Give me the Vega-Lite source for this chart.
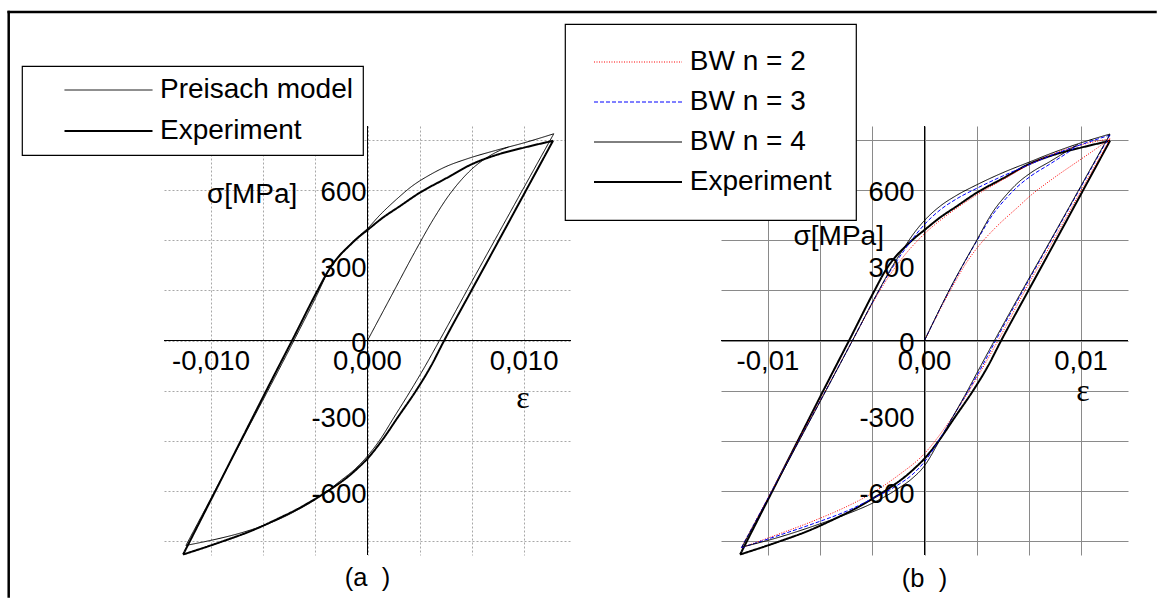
{
  "$schema": "https://vega.github.io/schema/vega-lite/v6.json",
  "padding": {"left": 6, "top": 10, "right": 0, "bottom": 0},
  "background": "white",
  "spacing": 150,
  "bounds": "flush",
  "config": {
    "view": {"stroke": null},
    "font": "Liberation Sans",
    "legend": {"labelFont": "Liberation Sans", "labelFontSize": 28, "labelColor": "black", "labelLimit": 500, "symbolType": "stroke", "symbolSize": 7744, "strokeColor": "black", "fillColor": "white", "strokeWidth": 1.2, "clipHeight": 28}
  },
  "resolve": {
    "scale": {"color": "independent", "strokeDash": "independent", "strokeWidth": "independent"},
    "legend": {"color": "independent", "strokeDash": "independent", "strokeWidth": "independent"}
  },
  "datasets": {
    "xa": [{"v": -0.01, "t": "-0,010"}, {"v": 0, "t": "0,000"}, {"v": 0.01, "t": "0,010"}],
    "xb": [{"v": -0.01, "t": "-0,01"}, {"v": 0, "t": "0,00"}, {"v": 0.01, "t": "0,01"}],
    "yt": [{"v": 600, "t": "600"}, {"v": 300, "t": "300"}, {"v": 0, "t": "0"}, {"v": -300, "t": "-300"}, {"v": -600, "t": "-600"}],
    "curves": [
      {"series": "Experiment", "branch": "up", "i": 0, "strain": -0.01178, "stress": -852},
      {"series": "Experiment", "branch": "up", "i": 1, "strain": -0.0100, "stress": -634},
      {"series": "Experiment", "branch": "up", "i": 2, "strain": -0.0080, "stress": -388},
      {"series": "Experiment", "branch": "up", "i": 3, "strain": -0.0060, "stress": -143},
      {"series": "Experiment", "branch": "up", "i": 4, "strain": -0.0048, "stress": 2},
      {"series": "Experiment", "branch": "up", "i": 5, "strain": -0.0032, "stress": 198},
      {"series": "Experiment", "branch": "up", "i": 6, "strain": -0.0025, "stress": 278},
      {"series": "Experiment", "branch": "up", "i": 7, "strain": -0.0019, "stress": 330},
      {"series": "Experiment", "branch": "up", "i": 8, "strain": -0.0012, "stress": 375},
      {"series": "Experiment", "branch": "up", "i": 9, "strain": -0.0006, "stress": 410},
      {"series": "Experiment", "branch": "up", "i": 10, "strain": 0.0, "stress": 440},
      {"series": "Experiment", "branch": "up", "i": 11, "strain": 0.0010, "stress": 490},
      {"series": "Experiment", "branch": "up", "i": 12, "strain": 0.0020, "stress": 532},
      {"series": "Experiment", "branch": "up", "i": 13, "strain": 0.00333, "stress": 588},
      {"series": "Experiment", "branch": "up", "i": 14, "strain": 0.0050, "stress": 645},
      {"series": "Experiment", "branch": "up", "i": 15, "strain": 0.00667, "stress": 702},
      {"series": "Experiment", "branch": "up", "i": 16, "strain": 0.0083, "stress": 740},
      {"series": "Experiment", "branch": "up", "i": 17, "strain": 0.0100, "stress": 768},
      {"series": "Experiment", "branch": "up", "i": 18, "strain": 0.01185, "stress": 795},
      {"series": "Experiment", "branch": "down", "i": 0, "strain": 0.01185, "stress": 795},
      {"series": "Experiment", "branch": "down", "i": 1, "strain": 0.0100, "stress": 583},
      {"series": "Experiment", "branch": "down", "i": 2, "strain": 0.0080, "stress": 354},
      {"series": "Experiment", "branch": "down", "i": 3, "strain": 0.0065, "stress": 183},
      {"series": "Experiment", "branch": "down", "i": 4, "strain": 0.0049, "stress": 0},
      {"series": "Experiment", "branch": "down", "i": 5, "strain": 0.0040, "stress": -108},
      {"series": "Experiment", "branch": "down", "i": 6, "strain": 0.0031, "stress": -200},
      {"series": "Experiment", "branch": "down", "i": 7, "strain": 0.0020, "stress": -300},
      {"series": "Experiment", "branch": "down", "i": 8, "strain": 0.0009, "stress": -400},
      {"series": "Experiment", "branch": "down", "i": 9, "strain": 0.0, "stress": -470},
      {"series": "Experiment", "branch": "down", "i": 10, "strain": -0.0006, "stress": -507},
      {"series": "Experiment", "branch": "down", "i": 11, "strain": -0.0013, "stress": -545},
      {"series": "Experiment", "branch": "down", "i": 12, "strain": -0.0020, "stress": -577},
      {"series": "Experiment", "branch": "down", "i": 13, "strain": -0.0027, "stress": -606},
      {"series": "Experiment", "branch": "down", "i": 14, "strain": -0.0036, "stress": -640},
      {"series": "Experiment", "branch": "down", "i": 15, "strain": -0.0045, "stress": -672},
      {"series": "Experiment", "branch": "down", "i": 16, "strain": -0.0058, "stress": -712},
      {"series": "Experiment", "branch": "down", "i": 17, "strain": -0.0072, "stress": -752},
      {"series": "Experiment", "branch": "down", "i": 18, "strain": -0.0095, "stress": -805},
      {"series": "Experiment", "branch": "down", "i": 19, "strain": -0.01178, "stress": -852},

      {"series": "Preisach model", "branch": "virgin", "i": 0, "strain": 0.0, "stress": 0},
      {"series": "Preisach model", "branch": "virgin", "i": 1, "strain": 0.0015, "stress": 175},
      {"series": "Preisach model", "branch": "virgin", "i": 2, "strain": 0.0030, "stress": 350},
      {"series": "Preisach model", "branch": "virgin", "i": 3, "strain": 0.0042, "stress": 482},
      {"series": "Preisach model", "branch": "virgin", "i": 4, "strain": 0.0052, "stress": 578},
      {"series": "Preisach model", "branch": "virgin", "i": 5, "strain": 0.0060, "stress": 640},
      {"series": "Preisach model", "branch": "virgin", "i": 6, "strain": 0.0068, "stress": 690},
      {"series": "Preisach model", "branch": "virgin", "i": 7, "strain": 0.0076, "stress": 727},
      {"series": "Preisach model", "branch": "virgin", "i": 8, "strain": 0.0084, "stress": 755},
      {"series": "Preisach model", "branch": "virgin", "i": 9, "strain": 0.0090, "stress": 770},
      {"series": "Preisach model", "branch": "up", "i": 0, "strain": -0.0116, "stress": -816},
      {"series": "Preisach model", "branch": "up", "i": 1, "strain": -0.0080, "stress": -393},
      {"series": "Preisach model", "branch": "up", "i": 2, "strain": -0.0047, "stress": 0},
      {"series": "Preisach model", "branch": "up", "i": 3, "strain": -0.0032, "stress": 185},
      {"series": "Preisach model", "branch": "up", "i": 4, "strain": -0.0025, "stress": 276},
      {"series": "Preisach model", "branch": "up", "i": 5, "strain": -0.0019, "stress": 330},
      {"series": "Preisach model", "branch": "up", "i": 6, "strain": -0.0012, "stress": 377},
      {"series": "Preisach model", "branch": "up", "i": 7, "strain": -0.0006, "stress": 413},
      {"series": "Preisach model", "branch": "up", "i": 8, "strain": 0.0, "stress": 446},
      {"series": "Preisach model", "branch": "up", "i": 9, "strain": 0.0008, "stress": 500},
      {"series": "Preisach model", "branch": "up", "i": 10, "strain": 0.00185, "stress": 562},
      {"series": "Preisach model", "branch": "up", "i": 11, "strain": 0.0029, "stress": 617},
      {"series": "Preisach model", "branch": "up", "i": 12, "strain": 0.0040, "stress": 660},
      {"series": "Preisach model", "branch": "up", "i": 13, "strain": 0.0050, "stress": 692},
      {"series": "Preisach model", "branch": "up", "i": 14, "strain": 0.0063, "stress": 722},
      {"series": "Preisach model", "branch": "up", "i": 15, "strain": 0.0082, "stress": 757},
      {"series": "Preisach model", "branch": "up", "i": 16, "strain": 0.0100, "stress": 787},
      {"series": "Preisach model", "branch": "up", "i": 17, "strain": 0.0119, "stress": 823},
      {"series": "Preisach model", "branch": "down", "i": 0, "strain": 0.0119, "stress": 823},
      {"series": "Preisach model", "branch": "down", "i": 1, "strain": 0.0100, "stress": 610},
      {"series": "Preisach model", "branch": "down", "i": 2, "strain": 0.0080, "stress": 385},
      {"series": "Preisach model", "branch": "down", "i": 3, "strain": 0.0065, "stress": 216},
      {"series": "Preisach model", "branch": "down", "i": 4, "strain": 0.0046, "stress": 0},
      {"series": "Preisach model", "branch": "down", "i": 5, "strain": 0.0037, "stress": -100},
      {"series": "Preisach model", "branch": "down", "i": 6, "strain": 0.0027, "stress": -205},
      {"series": "Preisach model", "branch": "down", "i": 7, "strain": 0.0017, "stress": -305},
      {"series": "Preisach model", "branch": "down", "i": 8, "strain": 0.0008, "stress": -395},
      {"series": "Preisach model", "branch": "down", "i": 9, "strain": 0.0, "stress": -460},
      {"series": "Preisach model", "branch": "down", "i": 10, "strain": -0.0008, "stress": -512},
      {"series": "Preisach model", "branch": "down", "i": 11, "strain": -0.0018, "stress": -562},
      {"series": "Preisach model", "branch": "down", "i": 12, "strain": -0.0030, "stress": -620},
      {"series": "Preisach model", "branch": "down", "i": 13, "strain": -0.00475, "stress": -684},
      {"series": "Preisach model", "branch": "down", "i": 14, "strain": -0.0116, "stress": -816},

      {"series": "BW n = 2", "branch": "virgin", "i": 0, "strain": 0.0, "stress": 0},
      {"series": "BW n = 2", "branch": "virgin", "i": 1, "strain": 0.0017, "stress": 205},
      {"series": "BW n = 2", "branch": "virgin", "i": 2, "strain": 0.0027, "stress": 312},
      {"series": "BW n = 2", "branch": "virgin", "i": 3, "strain": 0.00334, "stress": 367},
      {"series": "BW n = 2", "branch": "virgin", "i": 4, "strain": 0.0045, "stress": 447},
      {"series": "BW n = 2", "branch": "virgin", "i": 5, "strain": 0.0060, "stress": 533},
      {"series": "BW n = 2", "branch": "virgin", "i": 6, "strain": 0.0067, "stress": 573},
      {"series": "BW n = 2", "branch": "virgin", "i": 7, "strain": 0.0081, "stress": 640},
      {"series": "BW n = 2", "branch": "virgin", "i": 8, "strain": 0.0100, "stress": 722},
      {"series": "BW n = 2", "branch": "virgin", "i": 9, "strain": 0.0110, "stress": 765},
      {"series": "BW n = 2", "branch": "virgin", "i": 10, "strain": 0.01185, "stress": 803},
      {"series": "BW n = 2", "branch": "up", "i": 0, "strain": -0.0117, "stress": -825},
      {"series": "BW n = 2", "branch": "up", "i": 1, "strain": -0.0046, "stress": 0},
      {"series": "BW n = 2", "branch": "up", "i": 2, "strain": -0.0030, "stress": 183},
      {"series": "BW n = 2", "branch": "up", "i": 3, "strain": -0.0022, "stress": 262},
      {"series": "BW n = 2", "branch": "up", "i": 4, "strain": -0.0012, "stress": 345},
      {"series": "BW n = 2", "branch": "up", "i": 5, "strain": 0.0, "stress": 425},
      {"series": "BW n = 2", "branch": "up", "i": 6, "strain": 0.0015, "stress": 502},
      {"series": "BW n = 2", "branch": "up", "i": 7, "strain": 0.00334, "stress": 580},
      {"series": "BW n = 2", "branch": "up", "i": 8, "strain": 0.0050, "stress": 640},
      {"series": "BW n = 2", "branch": "up", "i": 9, "strain": 0.00668, "stress": 700},
      {"series": "BW n = 2", "branch": "up", "i": 10, "strain": 0.0083, "stress": 745},
      {"series": "BW n = 2", "branch": "up", "i": 11, "strain": 0.0100, "stress": 779},
      {"series": "BW n = 2", "branch": "up", "i": 12, "strain": 0.01185, "stress": 803},
      {"series": "BW n = 2", "branch": "down", "i": 0, "strain": 0.01185, "stress": 803},
      {"series": "BW n = 2", "branch": "down", "i": 1, "strain": 0.0100, "stress": 596},
      {"series": "BW n = 2", "branch": "down", "i": 2, "strain": 0.0080, "stress": 374},
      {"series": "BW n = 2", "branch": "down", "i": 3, "strain": 0.0065, "stress": 208},
      {"series": "BW n = 2", "branch": "down", "i": 4, "strain": 0.0047, "stress": 0},
      {"series": "BW n = 2", "branch": "down", "i": 5, "strain": 0.0038, "stress": -100},
      {"series": "BW n = 2", "branch": "down", "i": 6, "strain": 0.0029, "stress": -195},
      {"series": "BW n = 2", "branch": "down", "i": 7, "strain": 0.0015, "stress": -330},
      {"series": "BW n = 2", "branch": "down", "i": 8, "strain": 0.0, "stress": -450},
      {"series": "BW n = 2", "branch": "down", "i": 9, "strain": -0.0017, "stress": -538},
      {"series": "BW n = 2", "branch": "down", "i": 10, "strain": -0.0034, "stress": -610},
      {"series": "BW n = 2", "branch": "down", "i": 11, "strain": -0.0050, "stress": -662},
      {"series": "BW n = 2", "branch": "down", "i": 12, "strain": -0.0070, "stress": -716},
      {"series": "BW n = 2", "branch": "down", "i": 13, "strain": -0.0095, "stress": -775},
      {"series": "BW n = 2", "branch": "down", "i": 14, "strain": -0.0117, "stress": -825},

      {"series": "BW n = 3", "branch": "virgin", "i": 0, "strain": 0.0, "stress": 0},
      {"series": "BW n = 3", "branch": "virgin", "i": 1, "strain": 0.0017, "stress": 213},
      {"series": "BW n = 3", "branch": "virgin", "i": 2, "strain": 0.0033, "stress": 392},
      {"series": "BW n = 3", "branch": "virgin", "i": 3, "strain": 0.0044, "stress": 505},
      {"series": "BW n = 3", "branch": "virgin", "i": 4, "strain": 0.0052, "stress": 565},
      {"series": "BW n = 3", "branch": "virgin", "i": 5, "strain": 0.0059, "stress": 610},
      {"series": "BW n = 3", "branch": "virgin", "i": 6, "strain": 0.0068, "stress": 655},
      {"series": "BW n = 3", "branch": "virgin", "i": 7, "strain": 0.0080, "stress": 702},
      {"series": "BW n = 3", "branch": "virgin", "i": 8, "strain": 0.0090, "stress": 742},
      {"series": "BW n = 3", "branch": "virgin", "i": 9, "strain": 0.0098, "stress": 776},
      {"series": "BW n = 3", "branch": "up", "i": 0, "strain": -0.0117, "stress": -825},
      {"series": "BW n = 3", "branch": "up", "i": 1, "strain": -0.0046, "stress": 0},
      {"series": "BW n = 3", "branch": "up", "i": 2, "strain": -0.0030, "stress": 188},
      {"series": "BW n = 3", "branch": "up", "i": 3, "strain": -0.0022, "stress": 275},
      {"series": "BW n = 3", "branch": "up", "i": 4, "strain": -0.0014, "stress": 350},
      {"series": "BW n = 3", "branch": "up", "i": 5, "strain": -0.0007, "stress": 410},
      {"series": "BW n = 3", "branch": "up", "i": 6, "strain": 0.0, "stress": 462},
      {"series": "BW n = 3", "branch": "up", "i": 7, "strain": 0.0010, "stress": 520},
      {"series": "BW n = 3", "branch": "up", "i": 8, "strain": 0.0020, "stress": 562},
      {"series": "BW n = 3", "branch": "up", "i": 9, "strain": 0.00334, "stress": 606},
      {"series": "BW n = 3", "branch": "up", "i": 10, "strain": 0.0050, "stress": 655},
      {"series": "BW n = 3", "branch": "up", "i": 11, "strain": 0.00668, "stress": 700},
      {"series": "BW n = 3", "branch": "up", "i": 12, "strain": 0.0083, "stress": 742},
      {"series": "BW n = 3", "branch": "up", "i": 13, "strain": 0.0100, "stress": 780},
      {"series": "BW n = 3", "branch": "up", "i": 14, "strain": 0.01185, "stress": 818},
      {"series": "BW n = 3", "branch": "down", "i": 0, "strain": 0.01185, "stress": 818},
      {"series": "BW n = 3", "branch": "down", "i": 1, "strain": 0.0100, "stress": 612},
      {"series": "BW n = 3", "branch": "down", "i": 2, "strain": 0.0080, "stress": 389},
      {"series": "BW n = 3", "branch": "down", "i": 3, "strain": 0.0065, "stress": 222},
      {"series": "BW n = 3", "branch": "down", "i": 4, "strain": 0.00455, "stress": 0},
      {"series": "BW n = 3", "branch": "down", "i": 5, "strain": 0.0037, "stress": -100},
      {"series": "BW n = 3", "branch": "down", "i": 6, "strain": 0.0028, "stress": -200},
      {"series": "BW n = 3", "branch": "down", "i": 7, "strain": 0.0018, "stress": -305},
      {"series": "BW n = 3", "branch": "down", "i": 8, "strain": 0.0009, "stress": -400},
      {"series": "BW n = 3", "branch": "down", "i": 9, "strain": 0.0, "stress": -483},
      {"series": "BW n = 3", "branch": "down", "i": 10, "strain": -0.0008, "stress": -535},
      {"series": "BW n = 3", "branch": "down", "i": 11, "strain": -0.0017, "stress": -575},
      {"series": "BW n = 3", "branch": "down", "i": 12, "strain": -0.0034, "stress": -632},
      {"series": "BW n = 3", "branch": "down", "i": 13, "strain": -0.0050, "stress": -680},
      {"series": "BW n = 3", "branch": "down", "i": 14, "strain": -0.0070, "stress": -727},
      {"series": "BW n = 3", "branch": "down", "i": 15, "strain": -0.0095, "stress": -780},
      {"series": "BW n = 3", "branch": "down", "i": 16, "strain": -0.0117, "stress": -825},

      {"series": "BW n = 4", "branch": "virgin", "i": 0, "strain": 0.0, "stress": 0},
      {"series": "BW n = 4", "branch": "virgin", "i": 1, "strain": 0.0017, "stress": 215},
      {"series": "BW n = 4", "branch": "virgin", "i": 2, "strain": 0.0033, "stress": 395},
      {"series": "BW n = 4", "branch": "virgin", "i": 3, "strain": 0.0044, "stress": 515},
      {"series": "BW n = 4", "branch": "virgin", "i": 4, "strain": 0.0052, "stress": 578},
      {"series": "BW n = 4", "branch": "virgin", "i": 5, "strain": 0.0059, "stress": 624},
      {"series": "BW n = 4", "branch": "virgin", "i": 6, "strain": 0.0068, "stress": 668},
      {"series": "BW n = 4", "branch": "virgin", "i": 7, "strain": 0.0080, "stress": 712},
      {"series": "BW n = 4", "branch": "virgin", "i": 8, "strain": 0.0090, "stress": 750},
      {"series": "BW n = 4", "branch": "virgin", "i": 9, "strain": 0.0098, "stress": 781},
      {"series": "BW n = 4", "branch": "up", "i": 0, "strain": -0.01165, "stress": -822},
      {"series": "BW n = 4", "branch": "up", "i": 1, "strain": -0.0046, "stress": 0},
      {"series": "BW n = 4", "branch": "up", "i": 2, "strain": -0.0030, "stress": 190},
      {"series": "BW n = 4", "branch": "up", "i": 3, "strain": -0.0022, "stress": 280},
      {"series": "BW n = 4", "branch": "up", "i": 4, "strain": -0.0014, "stress": 360},
      {"series": "BW n = 4", "branch": "up", "i": 5, "strain": -0.0007, "stress": 425},
      {"series": "BW n = 4", "branch": "up", "i": 6, "strain": 0.0, "stress": 478},
      {"series": "BW n = 4", "branch": "up", "i": 7, "strain": 0.0010, "stress": 535},
      {"series": "BW n = 4", "branch": "up", "i": 8, "strain": 0.0020, "stress": 576},
      {"series": "BW n = 4", "branch": "up", "i": 9, "strain": 0.00334, "stress": 620},
      {"series": "BW n = 4", "branch": "up", "i": 10, "strain": 0.0050, "stress": 668},
      {"series": "BW n = 4", "branch": "up", "i": 11, "strain": 0.00668, "stress": 710},
      {"series": "BW n = 4", "branch": "up", "i": 12, "strain": 0.0083, "stress": 750},
      {"series": "BW n = 4", "branch": "up", "i": 13, "strain": 0.0100, "stress": 787},
      {"series": "BW n = 4", "branch": "up", "i": 14, "strain": 0.01185, "stress": 822},
      {"series": "BW n = 4", "branch": "down", "i": 0, "strain": 0.01185, "stress": 822},
      {"series": "BW n = 4", "branch": "down", "i": 1, "strain": 0.0100, "stress": 616},
      {"series": "BW n = 4", "branch": "down", "i": 2, "strain": 0.0080, "stress": 393},
      {"series": "BW n = 4", "branch": "down", "i": 3, "strain": 0.0065, "stress": 228},
      {"series": "BW n = 4", "branch": "down", "i": 4, "strain": 0.00447, "stress": 0},
      {"series": "BW n = 4", "branch": "down", "i": 5, "strain": 0.0036, "stress": -100},
      {"series": "BW n = 4", "branch": "down", "i": 6, "strain": 0.0027, "stress": -205},
      {"series": "BW n = 4", "branch": "down", "i": 7, "strain": 0.0018, "stress": -305},
      {"series": "BW n = 4", "branch": "down", "i": 8, "strain": 0.0009, "stress": -405},
      {"series": "BW n = 4", "branch": "down", "i": 9, "strain": 0.0, "stress": -499},
      {"series": "BW n = 4", "branch": "down", "i": 10, "strain": -0.0008, "stress": -550},
      {"series": "BW n = 4", "branch": "down", "i": 11, "strain": -0.0017, "stress": -590},
      {"series": "BW n = 4", "branch": "down", "i": 12, "strain": -0.0034, "stress": -650},
      {"series": "BW n = 4", "branch": "down", "i": 13, "strain": -0.0050, "stress": -692},
      {"series": "BW n = 4", "branch": "down", "i": 14, "strain": -0.0070, "stress": -737},
      {"series": "BW n = 4", "branch": "down", "i": 15, "strain": -0.0095, "stress": -787},
      {"series": "BW n = 4", "branch": "down", "i": 16, "strain": -0.01165, "stress": -822}
    ]
  },
  "hconcat": [
    {
      "width": 407,
      "height": 429,
      "title": {"text": "(a\u00a0\u00a0)", "orient": "bottom", "frame": "group", "anchor": "middle", "offset": -12, "baseline": "alphabetic", "fontSize": 25.5, "fontWeight": "normal", "font": "Liberation Sans", "color": "black"},
      "layer": [
        {
          "data": {"name": "curves"},
          "transform": [{"filter": {"field": "series", "oneOf": ["Preisach model", "Experiment"]}}],
          "mark": {"type": "line", "strokeJoin": "round", "interpolate": "monotone"},
          "encoding": {
            "x": {"field": "strain", "type": "quantitative", "scale": {"domain": [-0.013, 0.013], "nice": false, "zero": false},
                  "axis": {"values": [-0.01, -0.0066667, -0.0033333, 0, 0.0033333, 0.0066667, 0.01], "grid": true, "gridColor": "#a8a8a8", "gridDash": [2, 2], "gridWidth": 1, "labels": false, "ticks": false, "domain": false, "title": null}},
            "y": {"field": "stress", "type": "quantitative", "scale": {"domain": [-854, 854], "nice": false, "zero": false},
                  "axis": {"values": [-800, -700, -600, -500, -400, -300, -200, -100, 0, 100, 200, 300, 400, 500, 600, 700, 800], "grid": true, "gridColor": "#a8a8a8", "gridDash": [2, 2], "gridWidth": 1, "labels": false, "ticks": false, "domain": false, "title": null}},
            "order": {"field": "i", "type": "quantitative"},
            "detail": {"field": "branch", "type": "nominal"},
            "color": {"field": "series", "type": "nominal", "scale": {"domain": ["Preisach model", "Experiment"], "range": ["#000000", "#000000"]},
                      "legend": {"title": null, "orient": "none", "legendX": -142, "legendY": -60, "padding": 10, "symbolOffset": 31.5, "labelOffset": 6.5, "rowPadding": 13}},
            "strokeWidth": {"field": "series", "type": "nominal", "scale": {"type": "ordinal", "domain": ["Preisach model", "Experiment"], "range": [1, 2]},
                      "legend": {"title": null, "orient": "none", "legendX": -142, "legendY": -60, "padding": 10, "symbolOffset": 31.5, "labelOffset": 6.5, "rowPadding": 13}},
            "strokeDash": {"field": "series", "type": "nominal", "scale": {"domain": ["Preisach model", "Experiment"], "range": [[1, 0], [1, 0]]},
                      "legend": {"title": null, "orient": "none", "legendX": -142, "legendY": -60, "padding": 10, "symbolOffset": 31.5, "labelOffset": 6.5, "rowPadding": 13}}
          }
        },
        {
          "data": {"values": [{}]},
          "mark": {"type": "rule", "color": "black", "strokeWidth": 1},
          "encoding": {"x": {"datum": 0}, "y": {"datum": -854}, "y2": {"datum": 854}}
        },
        {
          "data": {"values": [{}]},
          "mark": {"type": "rule", "color": "black", "strokeWidth": 1},
          "encoding": {"x": {"datum": -0.013}, "x2": {"datum": 0.013}, "y": {"datum": 0}}
        },
        {
          "data": {"name": "xa"},
          "mark": {"type": "text", "fontSize": 27.5, "align": "center", "baseline": "alphabetic", "dy": 29.5, "color": "black"},
          "encoding": {"x": {"field": "v", "type": "quantitative"}, "y": {"datum": 0}, "text": {"field": "t"}}
        },
        {
          "data": {"name": "yt"},
          "mark": {"type": "text", "fontSize": 27.5, "align": "right", "baseline": "alphabetic", "dx": -1, "dy": 11.5, "color": "black"},
          "encoding": {"x": {"datum": 0}, "y": {"field": "v", "type": "quantitative"}, "text": {"field": "t"}}
        },
        {
          "data": {"values": [{}]},
          "mark": {"type": "text", "text": "σ[MPa]", "fontSize": 28, "align": "right", "baseline": "alphabetic", "color": "black"},
          "encoding": {"x": {"datum": -0.00448}, "y": {"datum": 548}}
        },
        {
          "data": {"values": [{}]},
          "mark": {"type": "text", "text": "ε", "font": "Liberation Serif", "fontSize": 32, "align": "center", "baseline": "alphabetic", "color": "black"},
          "encoding": {"x": {"datum": 0.00993}, "y": {"datum": -269}}
        },
        {
          "data": {"values": [{}]},
          "mark": {"type": "rule", "color": "black", "strokeWidth": 2.5, "strokeCap": "square"},
          "encoding": {"x": {"datum": -0.0229209}, "y": {"datum": 1307.87}, "y2": {"datum": -1019.22}}
        },
        {
          "data": {"values": [{}]},
          "mark": {"type": "rule", "color": "black", "strokeWidth": 2.5, "strokeCap": "square"},
          "encoding": {"x": {"datum": -0.0229209}, "x2": {"datum": 0.0503392}, "y": {"datum": 1307.87}}
        }
      ]
    },
    {
      "width": 407,
      "height": 429,
      "title": {"text": "(b\u00a0\u00a0)", "orient": "bottom", "frame": "group", "anchor": "middle", "offset": 31, "baseline": "alphabetic", "fontSize": 25.5, "fontWeight": "normal", "font": "Liberation Sans", "color": "black"},
      "layer": [
        {
          "data": {"name": "curves"},
          "transform": [{"filter": {"field": "series", "oneOf": ["BW n = 2", "BW n = 3", "BW n = 4", "Experiment"]}}],
          "mark": {"type": "line", "strokeJoin": "round", "interpolate": "monotone"},
          "encoding": {
            "x": {"field": "strain", "type": "quantitative", "scale": {"domain": [-0.013, 0.013], "nice": false, "zero": false},
                  "axis": {"values": [-0.01, -0.0066667, -0.0033333, 0, 0.0033333, 0.0066667, 0.01], "grid": true, "gridColor": "#8a8a8a", "gridWidth": 1, "labels": false, "ticks": false, "domain": false, "title": null}},
            "y": {"field": "stress", "type": "quantitative", "scale": {"domain": [-854, 854], "nice": false, "zero": false},
                  "axis": {"values": [-800, -700, -600, -500, -400, -300, -200, -100, 0, 100, 200, 300, 400, 500, 600, 700, 800], "grid": true, "gridColor": "#8a8a8a", "gridWidth": 1, "labels": false, "ticks": false, "domain": false, "title": null}},
            "order": {"field": "i", "type": "quantitative"},
            "detail": {"field": "branch", "type": "nominal"},
            "color": {"field": "series", "type": "nominal", "scale": {"domain": ["BW n = 2", "BW n = 3", "BW n = 4", "Experiment"], "range": ["#ff0000", "#0000ff", "#000000", "#000000"]},
                      "legend": {"title": null, "orient": "none", "legendX": -156, "legendY": -102, "padding": 24, "symbolOffset": 4, "labelOffset": 6.8, "rowPadding": 12}},
            "strokeWidth": {"field": "series", "type": "nominal", "scale": {"type": "ordinal", "domain": ["BW n = 2", "BW n = 3", "BW n = 4", "Experiment"], "range": [1, 1, 1, 2]},
                      "legend": {"title": null, "orient": "none", "legendX": -156, "legendY": -102, "padding": 24, "symbolOffset": 4, "labelOffset": 6.8, "rowPadding": 12}},
            "strokeDash": {"field": "series", "type": "nominal", "scale": {"domain": ["BW n = 2", "BW n = 3", "BW n = 4", "Experiment"], "range": [[1, 1.5], [4, 2], [1, 0], [1, 0]]},
                      "legend": {"title": null, "orient": "none", "legendX": -156, "legendY": -102, "padding": 24, "symbolOffset": 4, "labelOffset": 6.8, "rowPadding": 12}}
          }
        },
        {
          "data": {"values": [{}]},
          "mark": {"type": "rule", "color": "black", "strokeWidth": 1},
          "encoding": {"x": {"datum": 0}, "y": {"datum": -854}, "y2": {"datum": 854}}
        },
        {
          "data": {"values": [{}]},
          "mark": {"type": "rule", "color": "black", "strokeWidth": 1},
          "encoding": {"x": {"datum": -0.013}, "x2": {"datum": 0.013}, "y": {"datum": 0}}
        },
        {
          "data": {"name": "xb"},
          "mark": {"type": "text", "fontSize": 27.5, "align": "center", "baseline": "alphabetic", "dy": 29.5, "color": "black"},
          "encoding": {"x": {"field": "v", "type": "quantitative"}, "y": {"datum": 0}, "text": {"field": "t"}}
        },
        {
          "data": {"name": "yt"},
          "mark": {"type": "text", "fontSize": 27.5, "align": "right", "baseline": "alphabetic", "dx": -10, "dy": 11.5, "color": "black"},
          "encoding": {"x": {"datum": 0}, "y": {"field": "v", "type": "quantitative"}, "text": {"field": "t"}}
        },
        {
          "data": {"values": [{}]},
          "mark": {"type": "text", "text": "σ[MPa]", "fontSize": 28, "align": "right", "baseline": "alphabetic", "color": "black"},
          "encoding": {"x": {"datum": -0.00259}, "y": {"datum": 380}}
        },
        {
          "data": {"values": [{}]},
          "mark": {"type": "text", "text": "ε", "font": "Liberation Serif", "fontSize": 32, "align": "center", "baseline": "alphabetic", "color": "black"},
          "encoding": {"x": {"datum": 0.01012}, "y": {"datum": -239}}
        }
      ]
    }
  ]
}
